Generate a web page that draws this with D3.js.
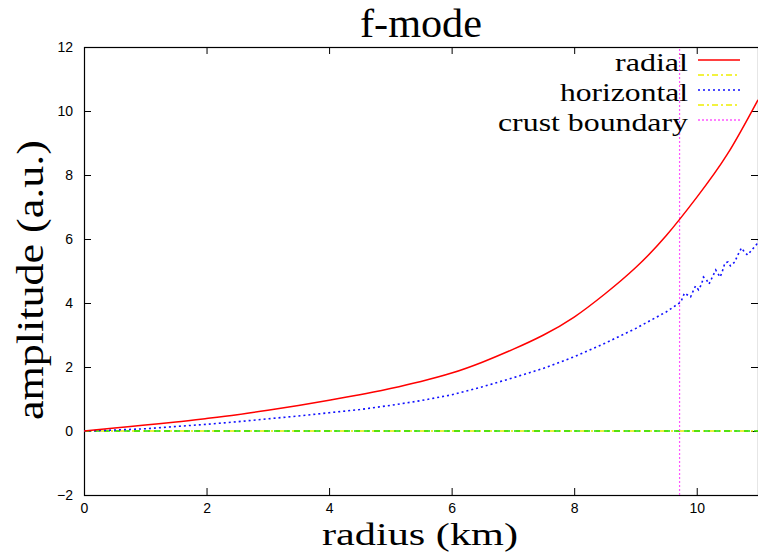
<!DOCTYPE html>
<html>
<head>
<meta charset="utf-8">
<script src="https://cdn.jsdelivr.net/npm/d3@7"></script>
<style>
  html, body { margin: 0; padding: 0; background: #fff; }
  svg { display: block; }
</style>
</head>
<body>
<svg id="chart" width="758" height="553"></svg>
<script>
// Radial grid (km) for the smooth part of both eigenfunctions
const radius = [0, 0.5, 1, 1.5, 2, 2.5, 3, 3.5, 4, 4.5, 5, 5.5, 6, 6.5, 7, 7.5, 8, 8.5, 9, 9.5, 10, 10.5, 11];
const radialAmp = [0, 0.09, 0.19, 0.28, 0.39, 0.51, 0.65, 0.80, 0.96, 1.13, 1.33, 1.55, 1.81, 2.15, 2.55, 3.0, 3.56, 4.28, 5.1, 6.1, 7.3, 8.65, 10.35];

// Horizontal displacement: smooth core, then oscillating inside the crust
const horizRadius = [0, 0.5, 1, 1.5, 2, 2.5, 3, 3.5, 4, 4.5, 5, 5.5, 6, 6.5, 7, 7.5, 8, 8.5, 9, 9.5, 9.74,
  9.80, 9.85, 9.90, 9.95, 9.98, 10.03, 10.08, 10.11, 10.16, 10.20, 10.24, 10.31, 10.38, 10.41, 10.46,
  10.51, 10.55, 10.62, 10.67, 10.73, 10.78, 10.83, 10.90, 10.98, 11.0];
const horizAmp = [0, 0.03, 0.07, 0.14, 0.21, 0.29, 0.38, 0.47, 0.57, 0.67, 0.80, 0.95, 1.13, 1.38, 1.66, 1.96, 2.32, 2.74, 3.2, 3.72, 4.03,
  4.31, 4.25, 4.19, 4.41, 4.53, 4.41, 4.59, 4.81, 4.72, 4.59, 4.75, 5.03, 4.81, 4.94, 5.25,
  5.28, 5.16, 5.28, 5.50, 5.72, 5.59, 5.50, 5.66, 5.84, 5.95];

const zeroRadius = [0, 11];
const zeroAmp = [0, 0];

const crustBoundary = 9.72;

const xTicks = [0, 2, 4, 6, 8, 10];
const yTicks = [-2, 0, 2, 4, 6, 8, 10, 12];

const legendLabels = ["radial", "", "horizontal", "", "crust boundary"];

const svg = d3.select("#chart");
const plotLeft = 84, plotRight = 758, plotTop = 47, plotBottom = 495;

const x = d3.scaleLinear().domain([0, 11]).range([plotLeft, plotRight]);
const y = d3.scaleLinear().domain([-2, 12]).range([plotBottom, plotTop]);

const sans = "'Liberation Sans', Arial, sans-serif";
const serif = "'Liberation Serif', 'Times New Roman', serif";

// Axes with inward ticks on all four sides
const axisStyle = g => {
  g.select(".domain").remove();
  g.selectAll(".tick line").attr("stroke", "#000").attr("stroke-width", 1);
  g.selectAll(".tick text").attr("font-family", sans).attr("font-size", 14).attr("fill", "#000");
};

svg.append("g").attr("transform", `translate(0,${plotBottom})`)
  .call(d3.axisBottom(x).tickValues(xTicks).tickSizeInner(-7).tickSizeOuter(0).tickPadding(8).tickFormat(d3.format("d")))
  .call(axisStyle);
svg.append("g").attr("transform", `translate(0,${plotTop})`)
  .call(d3.axisTop(x).tickValues(xTicks).tickSizeInner(-7).tickSizeOuter(0).tickFormat(""))
  .call(axisStyle);
svg.append("g").attr("transform", `translate(${plotLeft},0)`)
  .call(d3.axisLeft(y).tickValues(yTicks).tickSizeInner(-7).tickSizeOuter(0).tickPadding(11).tickFormat(d3.format("d")))
  .call(axisStyle);
svg.append("g").attr("transform", `translate(${plotRight},0)`)
  .call(d3.axisRight(y).tickValues(yTicks).tickSizeInner(-7).tickSizeOuter(0).tickFormat(""))
  .call(axisStyle);

// Frame
svg.append("rect")
  .attr("x", plotLeft + 0.5).attr("y", plotTop + 0.5)
  .attr("width", plotRight - plotLeft).attr("height", plotBottom - plotTop)
  .attr("fill", "none").attr("stroke", "#000").attr("stroke-width", 1.2);

const line = d3.line().x(d => x(d[0])).y(d => y(d[1]));
const plot = svg.append("g");

// Zero-level traces
plot.append("path").datum(zeroRadius.map((r, i) => [r, zeroAmp[i]]))
  .attr("d", line).attr("fill", "none").attr("stroke", "#e8e800").attr("stroke-width", 1.5)
  .attr("stroke-dasharray", "8,3,2,3");
plot.append("path").datum(zeroRadius.map((r, i) => [r, zeroAmp[i]]))
  .attr("d", line).attr("fill", "none").attr("stroke", "#22dd00").attr("stroke-width", 1.5)
  .attr("stroke-dasharray", "6,4");

// Crust boundary
plot.append("line")
  .attr("x1", x(crustBoundary)).attr("x2", x(crustBoundary))
  .attr("y1", y(-2)).attr("y2", y(12))
  .attr("stroke", "#ff55ff").attr("stroke-width", 1.2).attr("stroke-dasharray", "2,2");

// Horizontal displacement
plot.append("path").datum(horizRadius.map((r, i) => [r, horizAmp[i]]))
  .attr("d", line).attr("fill", "none").attr("stroke", "#1010ff").attr("stroke-width", 1.6)
  .attr("stroke-dasharray", "2,3");

// Radial displacement
plot.append("path").datum(radius.map((r, i) => [r, radialAmp[i]]))
  .attr("d", d3.line().curve(d3.curveNatural).x(d => x(d[0])).y(d => y(d[1])))
  .attr("fill", "none").attr("stroke", "#ff0000").attr("stroke-width", 1.5);

// Legend
const legendStyles = [
  { stroke: "#ff0000", dash: null, width: 73 },
  { stroke: "#eeee00", dash: "6,3,2,3", width: 0 },
  { stroke: "#1010ff", dash: "2,3", width: 128 },
  { stroke: "#eeee00", dash: "6,3,2,3", width: 0 },
  { stroke: "#ff55ff", dash: "2,2", width: 190 }
];
const legend = svg.append("g");
legendLabels.forEach((lab, i) => {
  const ly = 60 + i * 15;
  if (lab) {
    legend.append("text").attr("x", 688).attr("y", ly + 11)
      .attr("text-anchor", "end").attr("font-family", serif).attr("font-size", 26)
      .attr("textLength", legendStyles[i].width).attr("lengthAdjust", "spacingAndGlyphs")
      .attr("fill", "#000").text(lab);
  }
  legend.append("line").attr("x1", 698).attr("x2", 740).attr("y1", ly).attr("y2", ly)
    .attr("stroke", legendStyles[i].stroke).attr("stroke-width", 1.5)
    .attr("stroke-dasharray", legendStyles[i].dash);
});

// Titles
svg.append("text").attr("x", 421).attr("y", 37).attr("text-anchor", "middle")
  .attr("font-family", serif).attr("font-size", 39).attr("fill", "#000")
  .attr("textLength", 122).attr("lengthAdjust", "spacingAndGlyphs").text("f-mode");
svg.append("text").attr("x", 420).attr("y", 545).attr("text-anchor", "middle")
  .attr("font-family", serif).attr("font-size", 32).attr("fill", "#000")
  .attr("textLength", 196).attr("lengthAdjust", "spacingAndGlyphs").text("radius (km)");
svg.append("text").attr("transform", "translate(43,280) rotate(-90)").attr("text-anchor", "middle")
  .attr("font-family", serif).attr("font-size", 38).attr("fill", "#000")
  .attr("textLength", 280).attr("lengthAdjust", "spacingAndGlyphs").text("amplitude (a.u.)");
</script>
</body>
</html>
